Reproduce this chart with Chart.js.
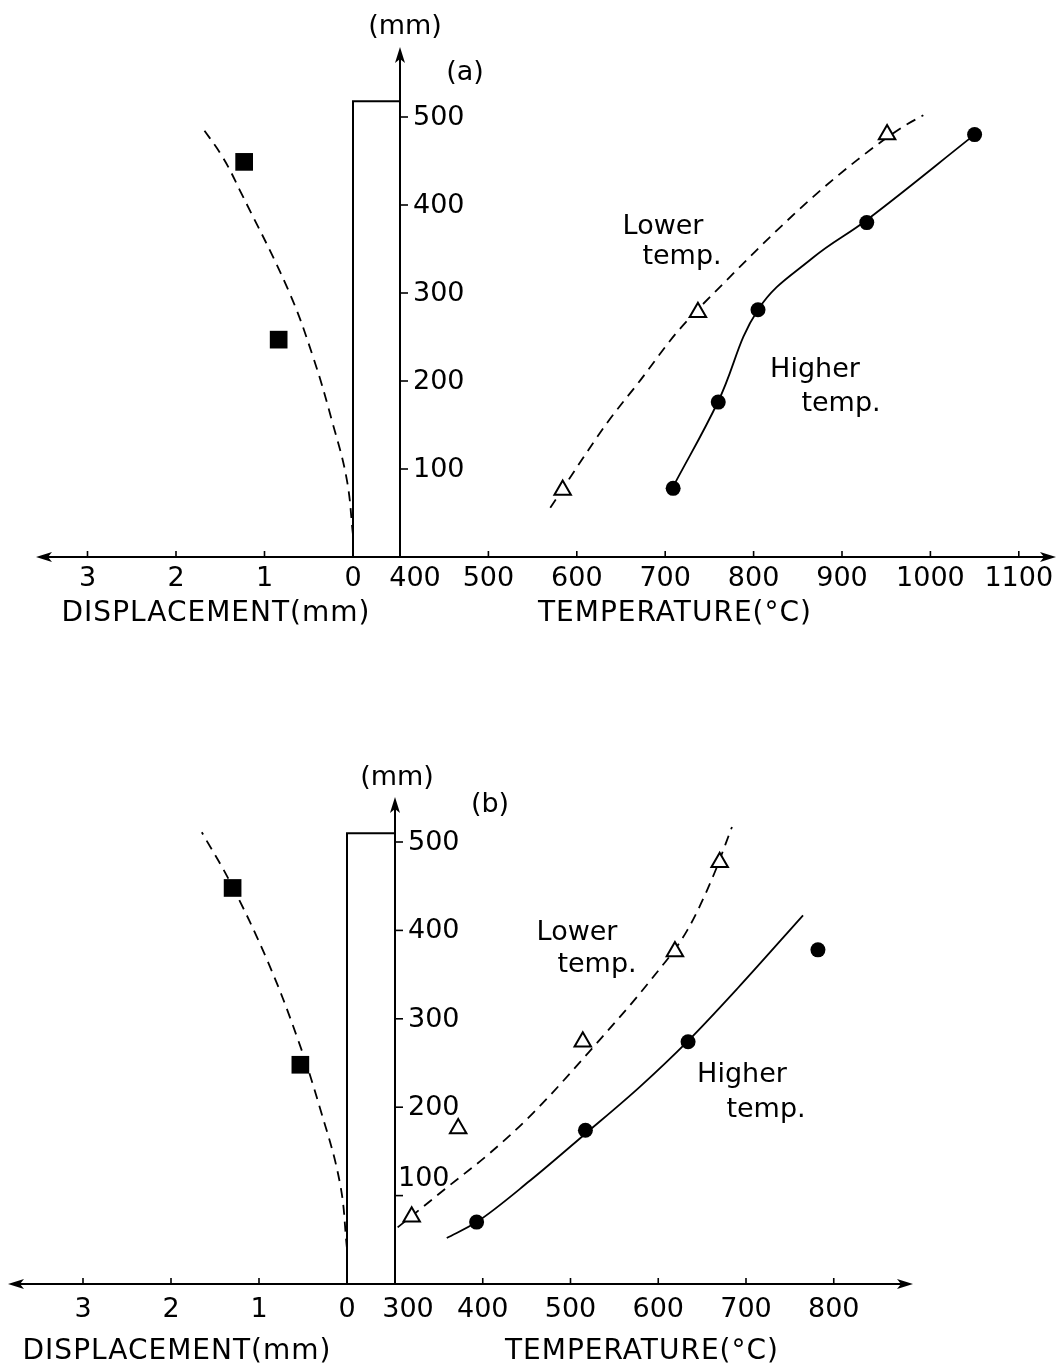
<!DOCTYPE html>
<html><head><meta charset="utf-8">
<script src="https://cdn.jsdelivr.net/npm/chart.js@4/dist/chart.umd.min.js"></script>
<style>
html,body{margin:0;padding:0;background:#fff;}
#wrap{position:relative;width:1059px;height:1371px;background:#fff;}
.pan{position:absolute;left:0;width:1059px;}
</style></head><body>
<div id="wrap">
<div class="pan" style="top:0;height:685px"><canvas id="ca" width="1059" height="685"></canvas></div>
<div class="pan" style="top:685px;height:686px"><canvas id="cb" width="1059" height="686"></canvas></div>
</div>
<script>
// ================= DATA =================
// tick labels
const dispTicks = [0, 1, 2, 3];
const heightTicks = [100, 200, 300, 400, 500];
const tempTicksA = [400, 500, 600, 700, 800, 900, 1000, 1100];
const tempTicksB = [300, 400, 500, 600, 700, 800];

// specimen height (mm)
const specimenA = 518;
const specimenB = 510;

// ---- panel (a) ----
const dispPtsDA = [1.23, 0.84];
const dispPtsHA = [449, 247];
const dispCurveDA = [0.0, 0.07, 0.23, 0.45, 0.73, 1.28, 1.47, 1.71];
const dispCurveHA = [25, 88, 152, 227, 303, 417, 454, 489];

const lowerTA = [584, 737, 951];
const lowerHA = [76, 278, 480];
const higherTA = [709, 760, 805, 928, 1050];
const higherHA = [78, 176, 281, 380, 480];
const lowerCurveTA = [570, 634, 672, 713, 773, 819, 867, 917, 969, 992];
const lowerCurveHA = [56, 152, 201, 255, 318, 364, 409, 451, 489, 502];
const higherCurveTA = [709, 760, 805, 867, 928, 1050];
const higherCurveHA = [80, 177, 281, 340, 383, 480];

// ---- panel (b) ----
const dispPtsDB = [1.30, 0.53];
const dispPtsHB = [448, 248];
const dispCurveDB = [0.0, 0.08, 0.31, 0.57, 0.91, 1.33, 1.65];
const dispCurveHB = [40, 114, 200, 280, 367, 455, 511];

const lowerTB = [319, 372, 514, 619, 670];
const lowerHB = [76, 176, 274, 376, 477];
const higherTB = [393, 517, 634, 782];
const higherHB = [70, 174, 274, 378];
const lowerCurveTB = [303, 359, 408, 457, 526, 594, 633, 662, 684];
const lowerCurveHB = [64, 109, 148, 193, 268, 347, 400, 460, 517];
const higherCurveTB = [359, 393, 454, 517, 579, 634, 690, 765];
const higherCurveHB = [52, 70, 117, 170, 223, 275, 334, 417];

// ================= DRAWING =================
const FONT = '"DejaVu Sans", sans-serif';
const pair = (xs, ys) => xs.map((v, i) => ({x: v, y: ys[i]}));

function line(c, x1, y1, x2, y2) { c.beginPath(); c.moveTo(x1, y1); c.lineTo(x2, y2); c.stroke(); }
function arrow(c, x, y, dir) {
  c.beginPath();
  if (dir === 'left') { c.moveTo(x, y); c.lineTo(x + 16, y - 5); c.lineTo(x + 12, y); c.lineTo(x + 16, y + 5); }
  else if (dir === 'right') { c.moveTo(x, y); c.lineTo(x - 16, y - 5); c.lineTo(x - 12, y); c.lineTo(x - 16, y + 5); }
  else { c.moveTo(x, y); c.lineTo(x - 5, y + 16); c.lineTo(x, y + 12); c.lineTo(x + 5, y + 16); }
  c.closePath(); c.fill();
}

const paperPlugin = {
  id: 'paper',
  beforeDatasetsDraw(chart) {
    const P = chart.options.plugins.paper;
    const s = chart.scales, c = chart.ctx;
    const y0 = s.y.getPixelForValue(0);
    const ax = s.xt.getPixelForValue(P.tempTicks[0]);
    c.save();
    c.strokeStyle = '#000'; c.fillStyle = '#000'; c.lineCap = 'butt';
    c.lineWidth = 2;
    line(c, P.leftArrowX + 10, y0, P.rightArrowX - 10, y0);
    arrow(c, P.leftArrowX, y0, 'left');
    arrow(c, P.rightArrowX, y0, 'right');
    line(c, ax, y0, ax, P.topArrowY + 10);
    arrow(c, ax, P.topArrowY, 'up');
    const rx = s.xd.getPixelForValue(0), ry = s.y.getPixelForValue(P.specimen);
    line(c, rx, y0, rx, ry);
    line(c, rx - 1, ry, ax, ry);
    c.lineWidth = 1.6;
    dispTicks.slice(1).forEach(d => { const x = s.xd.getPixelForValue(d); line(c, x, y0, x, y0 - 6); });
    P.tempTicks.slice(1).forEach(t => { const x = s.xt.getPixelForValue(t); line(c, x, y0, x, y0 - 6); });
    heightTicks.forEach(h => { const y = s.y.getPixelForValue(h); line(c, ax, y, ax + 8, y); });

    c.font = '27px ' + FONT; c.textBaseline = 'middle'; c.textAlign = 'center';
    dispTicks.forEach(d => c.fillText(String(d), s.xd.getPixelForValue(d), P.digitsY));
    P.tempTicks.forEach((t, i) => {
      const x = s.xt.getPixelForValue(t) + (i === 0 ? P.firstTempShift : 0);
      c.fillText(String(t), x, P.digitsY);
    });
    c.textAlign = 'left';
    heightTicks.forEach(h => {
      const nud = (P.nudge && P.nudge[h]) || [0, 0];
      c.fillText(String(h), ax + 13 + nud[0], s.y.getPixelForValue(h) + 1 + nud[1]);
    });
    c.textAlign = 'center';
    P.texts.forEach(tx => c.fillText(tx[0], tx[1], tx[2]));
    c.font = '28px ' + FONT;
    try { c.letterSpacing = '1px'; } catch (e) {}
    c.fillText('DISPLACEMENT(mm)', P.dispTitleX, P.titleY);
    c.fillText('TEMPERATURE(\u00B0C)', P.tempTitleX, P.titleY);
    c.restore();
  }
};

function makePanel(id, cfg) {
  const W = 1059, H = cfg.height;
  const yMax = cfg.axisY / cfg.pxPerMm;
  const dMax = cfg.dispZeroX / cfg.pxPerDisp;
  const dMin = (cfg.dispZeroX - W) / cfg.pxPerDisp;
  const tMin = cfg.tAxis - cfg.tAxisX / cfg.pxPerDeg;
  const tMax = cfg.tAxis + (W - cfg.tAxisX) / cfg.pxPerDeg;
  const dashed = [10, 7];
  const higherCurveStyle = cfg.higherSpline === 'tension'
    ? {tension: 0.4, cubicInterpolationMode: 'default'}
    : {cubicInterpolationMode: 'monotone'};
  return new Chart(document.getElementById(id), {
    type: 'scatter',
    data: {
      datasets: [
        {label: 'disp curve', data: pair(cfg.dcD, cfg.dcH), xAxisID: 'xd', showLine: true, borderDash: dashed,
         borderColor: '#000', borderWidth: 1.8, pointRadius: 0, tension: 0.4, order: 5},
        {label: 'displacement', data: pair(cfg.dpD, cfg.dpH), xAxisID: 'xd', pointStyle: 'rect', pointRadius: 12.5,
         backgroundColor: '#000', borderColor: '#000', borderWidth: 0, order: 1},
        {label: 'Lower temp. curve', data: pair(cfg.lcT, cfg.lcH), xAxisID: 'xt', showLine: true, borderDash: dashed,
         borderColor: '#000', borderWidth: 1.8, pointRadius: 0, cubicInterpolationMode: 'monotone', order: 5},
        Object.assign({label: 'Higher temp. curve', data: pair(cfg.hcT, cfg.hcH), xAxisID: 'xt', showLine: true,
         borderColor: '#000', borderWidth: 1.8, pointRadius: 0, order: 5}, higherCurveStyle),
        {label: 'Lower temp.', data: pair(cfg.lT, cfg.lH), xAxisID: 'xt', pointStyle: 'triangle', pointRadius: 9.5,
         backgroundColor: '#fff', borderColor: '#000', borderWidth: 2, order: 1},
        {label: 'Higher temp.', data: pair(cfg.hT, cfg.hH), xAxisID: 'xt', pointStyle: 'circle', pointRadius: 7.5,
         backgroundColor: '#000', borderColor: '#000', borderWidth: 0, order: 1}
      ]
    },
    options: {
      responsive: false, animation: false, events: [],
      layout: {autoPadding: false, padding: {left: 0, right: 0, top: 0, bottom: H - cfg.axisY}},
      scales: {
        xd: {type: 'linear', display: false, reverse: true, min: dMin, max: dMax},
        xt: {type: 'linear', display: false, min: tMin, max: tMax},
        y: {type: 'linear', display: false, min: 0, max: yMax}
      },
      datasets: {scatter: {clip: false}},
      plugins: {
        legend: {display: false}, tooltip: {enabled: false},
        paper: cfg.paper
      }
    },
    plugins: [paperPlugin]
  });
}

makePanel('ca', {
  height: 685, axisY: 557, pxPerMm: 0.88, dispZeroX: 353, pxPerDisp: 88.5, tAxis: 400, tAxisX: 400, pxPerDeg: 0.884,
  higherSpline: 'tension',
  dpD: dispPtsDA, dpH: dispPtsHA, dcD: dispCurveDA, dcH: dispCurveHA,
  lT: lowerTA, lH: lowerHA, hT: higherTA, hH: higherHA,
  lcT: lowerCurveTA, lcH: lowerCurveHA, hcT: higherCurveTA, hcH: higherCurveHA,
  paper: {
    tempTicks: tempTicksA, specimen: specimenA, leftArrowX: 36, rightArrowX: 1056, topArrowY: 47,
    digitsY: 579, titleY: 614, firstTempShift: 15, dispTitleX: 216, tempTitleX: 675,
    texts: [['(mm)', 405, 27], ['(a)', 465, 73], ['Lower', 663, 227], ['temp.', 682, 257], ['Higher', 815, 370], ['temp.', 841, 404]]
  }
});

makePanel('cb', {
  height: 686, axisY: 599, pxPerMm: 0.884, dispZeroX: 347, pxPerDisp: 88, tAxis: 300, tAxisX: 395, pxPerDeg: 0.8775,
  dpD: dispPtsDB, dpH: dispPtsHB, dcD: dispCurveDB, dcH: dispCurveHB,
  lT: lowerTB, lH: lowerHB, hT: higherTB, hH: higherHB,
  lcT: lowerCurveTB, lcH: lowerCurveHB, hcT: higherCurveTB, hcH: higherCurveHB,
  paper: {
    tempTicks: tempTicksB, specimen: specimenB, leftArrowX: 8, rightArrowX: 913, topArrowY: 112,
    digitsY: 625, titleY: 667, firstTempShift: 13, dispTitleX: 177, tempTitleX: 642,
    nudge: {100: [-10, -18]},
    texts: [['(mm)', 397, 93], ['(b)', 490, 120], ['Lower', 577, 248], ['temp.', 597, 280], ['Higher', 742, 390], ['temp.', 766, 425]]
  }
});
</script>
</body></html>
